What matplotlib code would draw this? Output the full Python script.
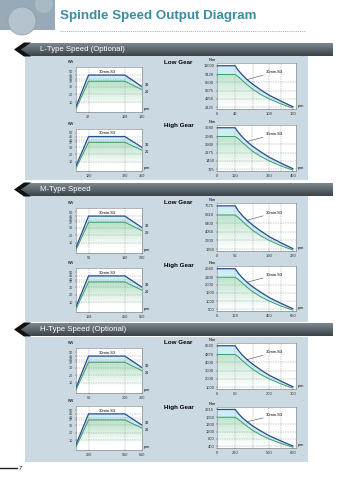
#!/usr/bin/env python3
import numpy as np
import matplotlib.pyplot as plt
from matplotlib.patches import Polygon, Rectangle, Circle
from matplotlib.colors import to_rgb

plt.rcParams['font.family'] = ['Liberation Sans', 'DejaVu Sans']

W, H = 355, 480

# ---------------- data ----------------
section_titles = ["L-Type Speed (Optional)", "M-Type Speed", "H-Type Speed (Optional)"]

# output power (kW), same shape for every gear
kw_ticks = [10, 20, 30, 37, 40, 45, 50]
kw_s3 = [4, 45, 45, 30]        # 30min.S3
kw_s1 = [1, 37, 37, 26]        # continuous
kw_end_labels = ["30", "26"]

# rpm marks: base, corner, max
L_low_rpm = [42, 128, 160]
L_high_rpm = [120, 320, 450]
M_low_rpm = [56, 190, 230]
M_high_rpm = [168, 450, 650]
H_low_rpm = [60, 200, 300]
H_high_rpm = [220, 560, 660]

# torque (N-m): y tick values, curve rpm, S3 curve, S1 curve
L_low_nm_ticks = [2125, 4250, 6375, 8500, 9120, 11000]
L_low_nm_rpm = [0, 42, 48, 56, 65, 76, 91, 108, 134, 160]
L_low_nm_s3 = [11000, 11000, 10011, 9083, 8719, 8028, 6611, 5194, 3659, 2244]
L_low_nm_s1 = [9120, 9120, 8938, 8646, 7909, 6730, 5431, 4250, 2952, 1889]

L_high_nm_ticks = [725, 1450, 2175, 2900, 2945, 3580]
L_high_nm_rpm = [0, 120, 139, 162, 190, 222, 269, 320, 385, 450]
L_high_nm_s3 = [3580, 3580, 3246, 2942, 2916, 2739, 2255, 1772, 1248, 766]
L_high_nm_s1 = [2945, 2945, 2932, 2911, 2698, 2296, 1853, 1450, 1007, 645]

M_low_nm_ticks = [1350, 2700, 4050, 5400, 6310, 7675]
M_low_nm_rpm = [0, 56, 68, 84, 103, 125, 156, 190, 210, 230]
M_low_nm_s3 = [7675, 7675, 6957, 6256, 5721, 5100, 4200, 3299, 2325, 1426]
M_low_nm_s1 = [6310, 6310, 6042, 5614, 5025, 4275, 3451, 2700, 1875, 1200]

M_high_nm_ticks = [500, 1000, 1500, 2000, 2100, 2560]
M_high_nm_rpm = [0, 168, 194, 227, 266, 312, 378, 450, 550, 650]
M_high_nm_s3 = [2560, 2560, 2318, 2094, 2035, 1889, 1556, 1222, 861, 528]
M_high_nm_s1 = [2100, 2100, 2071, 2024, 1861, 1584, 1278, 1000, 695, 445]

H_low_nm_ticks = [1000, 2000, 3000, 4000, 4870, 6620]
H_low_nm_rpm = [0, 60, 73, 89, 109, 132, 164, 200, 250, 300]
H_low_nm_s3 = [6620, 6620, 5700, 4819, 4307, 3778, 3111, 2444, 1722, 1056]
H_low_nm_s1 = [4870, 4870, 4614, 4204, 3722, 3167, 2556, 2000, 1389, 889]

H_high_nm_ticks = [400, 800, 1200, 1600, 1650, 2215]
H_high_nm_rpm = [0, 220, 252, 291, 339, 394, 473, 560, 610, 660]
H_high_nm_s3 = [2215, 2215, 1918, 1647, 1618, 1511, 1244, 978, 689, 422]
H_high_nm_s1 = [1650, 1650, 1635, 1612, 1489, 1267, 1022, 800, 556, 356]

# ---------------- styles ----------------
BLUE = '#2b4a8c'
GREEN = '#3a9a6a'
CYAN = '#cdeef3'
FADE = '#bfe4cc'
GRID = '#8f9aa0'
PANEL = '#cbd9e2'
TEAL = '#3a8e9f'


def px_axes(fig, x0, y0, x1, y1):
    return fig.add_axes([x0 / W, 1 - y1 / H, (x1 - x0) / W, (y1 - y0) / H])


def piecewise(ax, which, vals, pos):
    vals = np.asarray(vals, float)
    pos = np.asarray(pos, float)
    fwd = lambda v: np.interp(v, vals, pos)
    inv = lambda p: np.interp(p, pos, vals)
    if which == 'x':
        ax.set_xscale('function', functions=(fwd, inv))
        ax.set_xlim(vals[0], vals[-1])
    else:
        ax.set_yscale('function', functions=(fwd, inv))
        ax.set_ylim(vals[0], vals[-1])


def fade_under(ax, x, y, y0, f_lo, f_hi):
    xs = list(x) + [x[-1], x[0]]
    ys = list(y) + [y0, y0]
    patch, = ax.fill(xs, ys, facecolor='none', edgecolor='none')
    t = np.linspace(0, 1, 80)[:, None]
    w = np.clip((t - f_lo) / (f_hi - f_lo), 0, 1)
    top = np.array(to_rgb(FADE))
    img = (1 + (top - 1) * w)[:, None, :]
    im = ax.imshow(img, extent=[0, 1, 0, 1], transform=ax.transAxes,
                   origin='lower', aspect='auto', interpolation='bilinear', zorder=1)
    im.set_clip_path(patch)


def style_axes(ax, size=3):
    for s in ax.spines.values():
        s.set_linewidth(0.4)
        s.set_color('#7a7a7a')
    ax.set_facecolor('white')
    ax.tick_params(labelsize=size, length=1, width=0.3, pad=1, colors='#333333')
    ax.set_zorder(3)


def dashed_h(ax, v):
    ax.axhline(v, color=GRID, lw=0.35, dashes=(3, 2), zorder=2)


def dashed_v(ax, v):
    ax.axvline(v, color=GRID, lw=0.35, dashes=(3, 2), zorder=2)


def power_plot(fig, box, rpm):
    ax = px_axes(fig, *box)
    base, corner, top = rpm
    x = [0, base, corner, top]
    piecewise(ax, 'x', x, [0, 0.19, 0.74, 1.0])
    ax.set_ylim(-3, 55.5)
    ax.fill_between(x, kw_s1, kw_s3, color=CYAN, lw=0, zorder=1)
    fade_under(ax, x, kw_s1, -3, 0.15, 0.62)
    for v in kw_ticks[:-1]:
        dashed_h(ax, v)
    dashed_v(ax, base)
    dashed_v(ax, corner)
    ax.plot(x, kw_s3, color=BLUE, lw=0.9, zorder=4)
    ax.plot(x, kw_s1, color=GREEN, lw=0.7, zorder=4)
    ax.set_xticks([base, corner, top])
    ax.set_xticklabels([str(v) for v in rpm])
    ax.set_yticks(kw_ticks)
    ax.set_yticklabels([str(v) for v in kw_ticks])
    style_axes(ax, 2.7)
    ax.annotate("30min.S3", xy=(0.47, kw_s3[1]), xycoords=('axes fraction', 'data'),
                xytext=(0, 1), textcoords='offset points', ha='center', va='bottom',
                fontsize=3, zorder=5)
    tr = ax.get_yaxis_transform()
    ax.text(1.04, kw_s3[-1], kw_end_labels[0], transform=tr, fontsize=2.8, va='bottom')
    ax.text(1.04, kw_s1[-1], kw_end_labels[1], transform=tr, fontsize=2.8, va='top')
    ax.text(-0.12, 1.06, "KW", transform=ax.transAxes, fontsize=2.8, va='bottom')
    ax.text(1.02, 0.02, "rpm", transform=ax.transAxes, fontsize=2.6, va='bottom')


def torque_plot(fig, box, rpm, ticks, xr, s3, s1):
    ax = px_axes(fig, *box)
    base, corner, top = rpm
    piecewise(ax, 'x', [0, base, corner, top, top + (top - corner) * 0.13],
              [0, 0.23, 0.66, 0.96, 1.0])
    g1, g2, g3, g4, p1, p3 = ticks
    piecewise(ax, 'y', [g1 * 0.78, g1, g2, g3, g4, p1, p3, p3 + (p3 - p1) * 0.3],
              [0, 0.04, 0.22, 0.40, 0.58, 0.75, 0.94, 1.0])
    ax.fill_between(xr, s1, s3, color=CYAN, lw=0, zorder=1)
    fade_under(ax, xr, s1, g1 * 0.78, 0.05, 0.75)
    for v in ticks[:4]:
        dashed_h(ax, v)
    for v in (base, xr[5], corner, xr[8]):
        dashed_v(ax, v)
    ax.plot(xr, s3, color=BLUE, lw=0.9, zorder=4)
    ax.plot(xr, s1, color=GREEN, lw=0.7, zorder=4)
    ax.set_xticks([0, base, corner, top])
    ax.set_xticklabels(["0"] + [str(v) for v in rpm])
    ax.set_yticks(ticks)
    ax.set_yticklabels([str(v) for v in ticks])
    style_axes(ax)
    ax.annotate("30min.S3", xy=(xr[4], s3[4]), xytext=(0.62, 0.8),
                textcoords='axes fraction', fontsize=3, ha='left', va='center',
                arrowprops=dict(arrowstyle='-', lw=0.35, color='#333333',
                                shrinkA=0, shrinkB=0), zorder=5)
    ax.text(-0.1, 1.03, "N\u00b7m", transform=ax.transAxes, fontsize=2.8, va='bottom')
    ax.text(1.02, 0.03, "rpm", transform=ax.transAxes, fontsize=2.6, va='bottom')


fig = plt.figure(figsize=(W / 100, H / 100), dpi=100)
bg = fig.add_axes([0, 0, 1, 1])
bg.set_xlim(0, W)
bg.set_ylim(H, 0)
bg.axis('off')

# header picture and title
bg.add_patch(Rectangle((0, 0), 55, 30, facecolor='#98aab7', lw=0))
bg.add_patch(Circle((22, 21), 14, facecolor='#b4c3cd', edgecolor='#8a9dab', lw=0.5))
bg.add_patch(Circle((44, 4), 9, facecolor='#a9bac5', lw=0))
bg.text(60, 16, "Spindle Speed Output Diagram", fontsize=9.6, fontweight='bold',
        color=TEAL, va='center')
bg.plot([60, 305], [31, 31], color='#9aaab0', lw=0.7, ls=(0, (1, 1.2)))

# section banners and panels
banner_tops = [43, 183, 323]
panel_spans = [(56, 180), (196, 322), (337, 462)]
grad = np.linspace(0, 1, 40)[:, None]
top_c, bot_c = np.array(to_rgb('#7d888f')), np.array(to_rgb('#3b4349'))
banner_img = (top_c + (bot_c - top_c) * grad)[:, None, :]
for title, yt, (p0, p1) in zip(section_titles, banner_tops, panel_spans):
    bg.add_patch(Rectangle((25, p0), 283, p1 - p0, facecolor=PANEL, lw=0))
    yb = yt + 13
    ym = yt + 6.5
    bar = Polygon([(27, yt), (333, yt), (333, yb), (27, yb), (21, ym)], closed=True,
                  facecolor='none', lw=0)
    bg.add_patch(bar)
    im = bg.imshow(banner_img, extent=(20, 334, yb, yt), origin='upper',
                   aspect='auto', interpolation='bilinear')
    im.set_clip_path(bar)
    bg.add_patch(Polygon([(14, ym), (24, yt - 0.5), (31, yt - 0.5), (21, ym),
                          (31, yb + 0.5), (24, yb + 0.5)], closed=True,
                         facecolor='#111111', lw=0))
    bg.text(40, ym, title, color='white', fontsize=5.6, va='center')
bg.set_xlim(0, W)
bg.set_ylim(H, 0)

# gear labels
for y in (63, 203, 343):
    bg.text(164, y, "Low Gear", fontsize=4.5, fontweight='bold', va='center')
for y in (126, 265, 407):
    bg.text(164, y, "High Gear", fontsize=4.5, fontweight='bold', va='center')

# page number
bg.plot([0, 17], [468, 468], color='#222222', lw=1.0)
bg.text(18.5, 468, "7", fontsize=4, style='italic', va='center')

# charts
power_plot(fig, (76, 67, 142, 112), L_low_rpm)
torque_plot(fig, (217, 63, 296, 109), [42, 108, 160], L_low_nm_ticks,
            L_low_nm_rpm, L_low_nm_s3, L_low_nm_s1)
power_plot(fig, (76, 129, 142, 171), L_high_rpm)
torque_plot(fig, (217, 125, 296, 171), L_high_rpm, L_high_nm_ticks,
            L_high_nm_rpm, L_high_nm_s3, L_high_nm_s1)

power_plot(fig, (76, 208, 142, 253), M_low_rpm)
torque_plot(fig, (217, 203, 296, 251), M_low_rpm, M_low_nm_ticks,
            M_low_nm_rpm, M_low_nm_s3, M_low_nm_s1)
power_plot(fig, (76, 268, 142, 312), M_high_rpm)
torque_plot(fig, (217, 266, 296, 311), M_high_rpm, M_high_nm_ticks,
            M_high_nm_rpm, M_high_nm_s3, M_high_nm_s1)

power_plot(fig, (76, 348, 142, 393), H_low_rpm)
torque_plot(fig, (217, 343, 296, 389), H_low_rpm, H_low_nm_ticks,
            H_low_nm_rpm, H_low_nm_s3, H_low_nm_s1)
power_plot(fig, (76, 406, 142, 450), H_high_rpm)
torque_plot(fig, (217, 407, 296, 448), H_high_rpm, H_high_nm_ticks,
            H_high_nm_rpm, H_high_nm_s3, H_high_nm_s1)

fig.savefig("out.png", dpi=100)
